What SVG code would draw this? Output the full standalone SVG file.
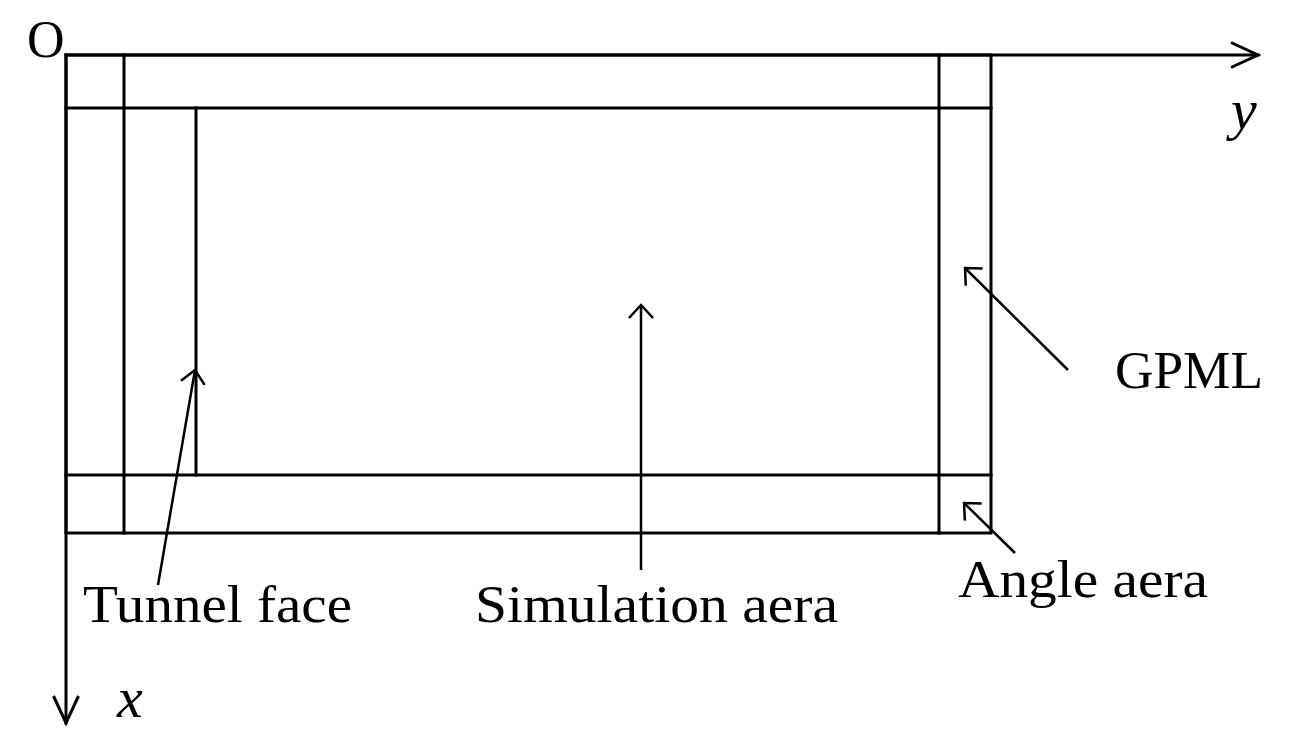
<svg xmlns="http://www.w3.org/2000/svg" width="1297" height="742" viewBox="0 0 1297 742">
<style>
.ln{stroke:#000;stroke-width:3;fill:none;stroke-linecap:square}
.ptr{stroke:#000;stroke-width:2.5;fill:none}
.t{font-family:"Liberation Serif","Times New Roman",serif;font-size:52px;fill:#000}
.it{font-family:"Liberation Serif","Times New Roman",serif;font-size:58px;font-style:italic;fill:#000}
</style>
<defs>
<marker id="axh" markerUnits="userSpaceOnUse" markerWidth="40" markerHeight="40" refX="28" refY="14" orient="auto" overflow="visible">
<path d="M1,1.5 L28,14 L1,26.5" stroke="#000" stroke-width="3" fill="none"/>
</marker>
<marker id="pth" markerUnits="userSpaceOnUse" markerWidth="30" markerHeight="30" refX="14" refY="12" orient="auto" overflow="visible">
<path d="M1,0 L14,12 L1,24" stroke="#000" stroke-width="2.5" fill="none"/>
</marker>
</defs>
<g id="frame">
<rect class="ln" x="66" y="55" width="925" height="478"/>
<line class="ln" x1="66" y1="108" x2="991" y2="108"/>
<line class="ln" x1="66" y1="475" x2="991" y2="475"/>
<line class="ln" x1="124" y1="55" x2="124" y2="533"/>
<line class="ln" x1="939" y1="55" x2="939" y2="533"/>
<line class="ln" x1="196" y1="108" x2="196" y2="475"/>
</g>
<g id="axes">
<line class="ln" x1="66" y1="55" x2="1258" y2="55" marker-end="url(#axh)"/>
<line class="ln" x1="66" y1="55" x2="66" y2="723" marker-end="url(#axh)"/>
</g>
<g id="connectors">
<line class="ptr" x1="158" y1="585" x2="195" y2="370" marker-end="url(#pth)"/>
<line class="ptr" x1="641" y1="570" x2="641" y2="305" marker-end="url(#pth)"/>
<line class="ptr" x1="1068" y1="370" x2="965" y2="268" marker-end="url(#pth)"/>
<line class="ptr" x1="1015" y1="553" x2="964" y2="503" marker-end="url(#pth)"/>
</g>
<g id="labels">
<text class="t" x="27" y="57">O</text>
<text class="it" x="1231" y="129">y</text>
<text class="it" x="117" y="717">x</text>
<text class="t" x="83" y="622" textLength="269" lengthAdjust="spacingAndGlyphs">Tunnel face</text>
<text class="t" x="475" y="622" textLength="363" lengthAdjust="spacingAndGlyphs">Simulation aera</text>
<text class="t" x="958" y="597" textLength="250" lengthAdjust="spacingAndGlyphs">Angle aera</text>
<text class="t" x="1115" y="388" textLength="148" lengthAdjust="spacingAndGlyphs">GPML</text>
</g>
</svg>
